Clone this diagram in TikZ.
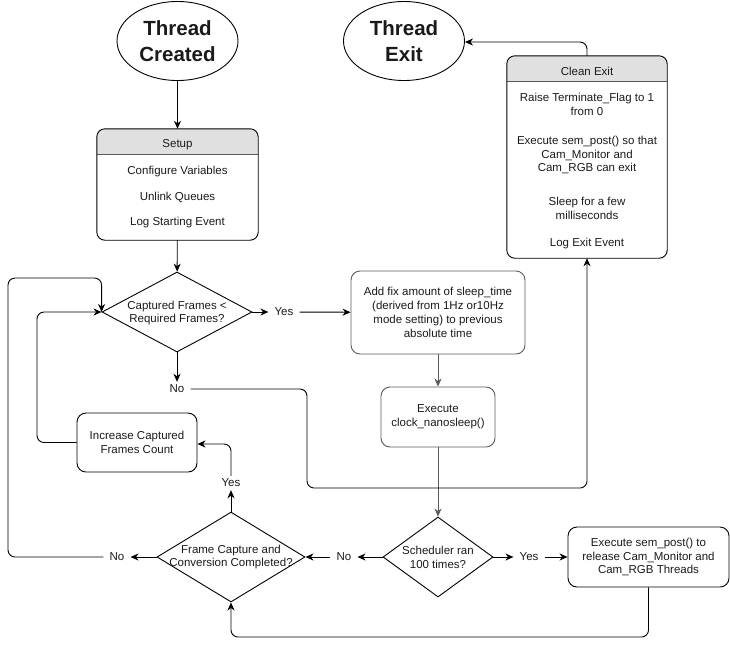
\documentclass[tikz,border=0pt]{standalone}
\usepackage{fontspec}
\setmainfont{Liberation Sans}
\usetikzlibrary{shapes.geometric,arrows.meta}
\definecolor{gr}{HTML}{5A5A5A}
\definecolor{hdr}{HTML}{E0E0E0}
\definecolor{tx}{HTML}{1A1A1A}
\begin{document}
\begin{tikzpicture}[x=1pt,y=-1pt,
 font=\fontsize{11.5}{13.8}\selectfont,
 every node/.style={text=tx},
 ln/.style={line width=0.9pt, draw=black},
 arr/.style={ln, -{Stealth[length=8pt,width=7pt,inset=2.5pt]}, rounded corners=7pt},
 garr/.style={arr, draw=gr},
 ttl/.style={ellipse, draw, line width=0.9pt, minimum width=121pt, minimum height=79pt, inner sep=0pt, align=center, font=\fontsize{20.5}{26}\selectfont\bfseries},
 rbox/.style={draw, line width=0.9pt, rounded corners=9pt, align=center, inner sep=0pt},
 dia/.style={diamond, draw, line width=0.9pt, inner sep=0pt},
 txt/.style={align=center, inner sep=0pt},
 lbl/.style={inner xsep=6pt, inner ysep=3pt},
]
\useasboundingbox (0,0) rectangle (730,646);

% start / end
\node[ttl] (tc) at (177.5,41) {Thread\\Created};
\node[ttl] (te) at (404,41) {Thread\\Exit};

% Setup panel
\node[minimum width=161pt, minimum height=111pt, inner sep=0pt] (setup) at (177.5,184.5) {};
\begin{scope}
\clip[rounded corners=8pt] (setup.north west) rectangle (setup.south east);
\fill[hdr] (setup.north west) rectangle ([yshift=-26pt]setup.north east);
\end{scope}
\draw[gr, line width=0.9pt] ([yshift=-26pt]setup.north west) -- ([yshift=-26pt]setup.north east);
\draw[line width=0.9pt, rounded corners=8pt] (setup.north west) rectangle (setup.south east);
\node[txt] (sh) at (177.5,144.5) {Setup};
\node[txt] (s1) at (177.5,171.5) {Configure Variables};
\node[txt] (s2) at (177.5,197) {Unlink Queues};
\node[txt] (s3) at (177.5,222.5) {Log Starting Event};

% Clean Exit panel
\node[minimum width=160pt, minimum height=202pt, inner sep=0pt] (ce) at (587,157) {};
\begin{scope}
\clip[rounded corners=8pt] (ce.north west) rectangle (ce.south east);
\fill[hdr] (ce.north west) rectangle ([yshift=-26pt]ce.north east);
\end{scope}
\draw[gr, line width=0.9pt] ([yshift=-26pt]ce.north west) -- ([yshift=-26pt]ce.north east);
\draw[line width=0.9pt, rounded corners=8pt] (ce.north west) rectangle (ce.south east);
\node[txt] (ceh) at (587,71) {Clean Exit};
\node[txt] (c1) at (587,104.5) {Raise Terminate\_Flag to 1\\from 0};
\node[txt] (c2) at (587,155) {Execute sem\_post() so that\\Cam\_Monitor and\\Cam\_RGB can exit};
\node[txt] (c3) at (587,208.5) {Sleep for a few\\milliseconds};
\node[txt] (c4) at (587,244) {Log Exit Event};

% decision 1
\node[dia, minimum width=150pt, minimum height=80pt] (d1) at (177,312) {};
\node[txt] (d1t) at (177,313) {Captured Frames <\\Required Frames?};
\node[lbl] (y1) at (284,312) {Yes};
\node[lbl] (n1) at (177,389) {No};

% add fix / execute
\node[rbox, draw=gr, minimum width=174pt, minimum height=83pt] (add) at (438,312.5) {Add fix amount of sleep\_time\\(derived from 1Hz or10Hz\\mode setting) to previous\\absolute time};
\node[rbox, draw=gr, minimum width=114pt, minimum height=60pt] (ex) at (438,417) {Execute\\clock\_nanosleep()};

% decision 3
\node[dia, minimum width=110pt, minimum height=80pt] (d3) at (438,557) {};
\node[txt] (d3t) at (438,557) {Scheduler ran\\100 times?};
\node[lbl] (y3) at (529,557) {Yes};
\node[lbl] (n3) at (344,557) {No};
\node[rbox, minimum width=161pt, minimum height=60pt] (sem) at (648.5,557) {Execute sem\_post() to\\release Cam\_Monitor and\\Cam\_RGB Threads};

% decision 2
\node[dia, minimum width=148pt, minimum height=90pt] (d2) at (231,557) {};
\node[txt] (d2t) at (231,557) {Frame Capture and\\Conversion Completed?};
\node[lbl] (n2) at (117,557) {No};
\node[lbl] (y2) at (231,483) {Yes};

% increase
\node[rbox, minimum width=120pt, minimum height=59pt] (inc) at (137,442.5) {Increase Captured\\Frames Count};

% bend coordinates
\coordinate (kA) at (8,278);
\coordinate (kB) at (37,312);
\coordinate (kC) at (307,488);
\coordinate (kD) at (0,637);
\coordinate (kE) at (0,444);
\coordinate (kF) at (0,42);

% connectors
\draw[arr] (tc) -- (setup);
\draw[arr] (setup) -- (d1);
\draw[arr] (d1.east) -- (y1);
\draw[arr] (y1) -- (add);
\draw[garr] (add) -- (ex);
\draw[garr] (ex) -- (d3);
\draw[arr] (d3.east) -- (y3);
\draw[arr] (y3) -- (sem);
\draw[arr] (d3.west) -- (n3);
\draw[arr] (n3) -- (d2.east);
\draw[arr] (sem.south) -- (sem.south |- kD) -- (d2.south |- kD) -- (d2.south);
\draw[arr] (d2.west) -- (n2);
\draw[arr] (n2.west) -- (kA |- n2) -- (kA) -- (d1.west |- kA) -- (d1.west);
\draw[arr] (d2.north) -- (y2);
\draw[arr] (y2.north) -- (y2 |- kE) -- (inc.east |- kE);
\draw[arr] (inc.west) -- (kB |- inc.west) -- (kB) -- (d1.west);
\draw[arr] (d1.south) -- (n1);
\draw[arr] (n1.east) -- (kC |- n1) -- (kC) -- (ce.south |- kC) -- (ce.south);
\draw[arr] (ce.north) -- (ce.north |- kF) -- (te.east |- kF);
\end{tikzpicture}
\end{document}
